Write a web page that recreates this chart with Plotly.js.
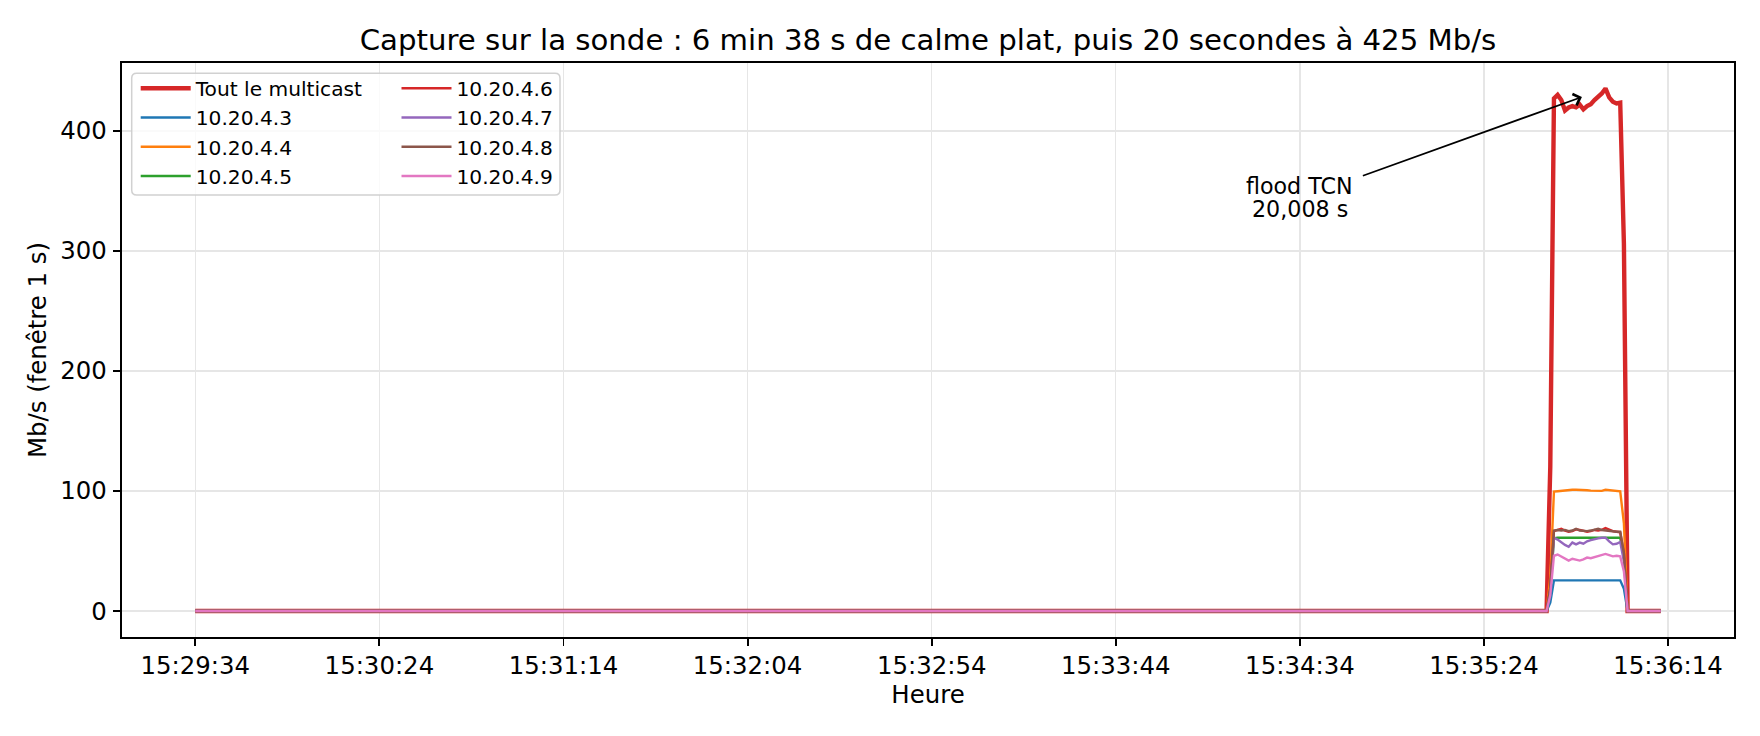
<!DOCTYPE html>
<html>
<head>
<meta charset="utf-8">
<script src="https://cdn.plot.ly/plotly-3.0.1.min.js"></script>
<style>
html,body{margin:0;padding:0;background:#fff;}
#chart{width:1760px;height:736px;}
</style>
</head>
<body>
<div id="chart"></div>
<script>
// ---- data ----
const day = '2024-01-01 ';
const times = ['15:29:34','15:35:41','15:35:42',
  '15:35:43','15:35:44','15:35:45','15:35:46','15:35:47','15:35:48','15:35:49','15:35:50','15:35:51','15:35:52',
  '15:35:53','15:35:54','15:35:55','15:35:56','15:35:57','15:35:58','15:35:59','15:36:00','15:36:01',
  '15:36:02','15:36:03','15:36:12'];
const total = [0,0,120,
  427,430,425.7,417,419.5,420.7,419.6,421.9,418,420.7,422.3,425.7,427.9,431.2,435.4,427.9,424.3,422.9,423.5,
  306,0,0];
const ip3 = [0,0,7,
  25.5,25.5,25.6,25.5,25.5,25.6,25.5,25.5,25.5,25.6,25.5,25.5,25.5,25.6,25.5,25.5,25.5,25.6,25.5,
  18.5,0,0];
const ip4 = [0,0,28,
  99.5,99.8,100.2,100.5,100.8,101,101,101,100.8,100.6,100.3,100.2,100.6,100.1,101,100.5,100,99.8,99.6,
  73,0,0];
const ip5 = [0,0,17,
  60.6,61,61,61,61.1,61,61,61.2,61,61,61.1,61,61,61.2,61,61,61.1,61,61,
  44.5,0,0];
const ip6 = [0,0,19,
  66.5,67.5,68.5,67,66,66.5,68,67.5,66.5,66,66.5,67.5,67,67.5,69,67.5,66.5,66,65.5,
  48,0,0];
const ip7 = [0,0,17,
  61,59.5,57,55,53.5,57,55.5,57,56,58,59,60,60.5,61,61,58,55.5,56,57.5,
  41.5,0,0];
const ip8 = [0,0,19,
  67,67.5,67,67.5,66.5,67,68.5,67,66.5,66.5,67,68,68.5,67.5,67,67,66.5,66,66,
  48,0,0];
const ip9 = [0,0,13,
  46,47,45.5,44,42,43.5,43,42,43,44.5,44,45,46,46.5,47.5,46.5,45.5,46,45.5,
  33,0,0];

const seriesNames = ['Tout le multicast','10.20.4.3','10.20.4.4','10.20.4.5','10.20.4.6','10.20.4.7','10.20.4.8','10.20.4.9'];
const seriesValues = [total, ip3, ip4, ip5, ip6, ip7, ip8, ip9];
const seriesColors = ['#d62728','#1f77b4','#ff7f0e','#2ca02c','#d62728','#9467bd','#8c564b','#e377c2'];
const seriesLegend = ['legend','legend','legend','legend','legend2','legend2','legend2','legend2'];

const titleText = 'Capture sur la sonde : 6 min 38 s de calme plat, puis 20 secondes à 425 Mb/s';
const xTitle = 'Heure';
const yTitle = 'Mb/s (fenêtre 1 s)';
const noteLine1 = 'flood TCN';
const noteLine2 = '20,008 s';

// ---- layout geometry ----
const W = 1760, H = 736;
const M = {l:122, r:26, t:63, b:99};
const PW = W - M.l - M.r, PH = H - M.t - M.b;
const px2x = p => (p - M.l) / PW;
const px2y = p => 1 - (p - M.t) / PH;
const FONT = 'DejaVu Sans';

const x = times.map(t => day + t);

const traces = seriesValues.map((vals, i) => ({
  type: 'scatter', mode: 'lines',
  x: x, y: vals,
  name: seriesNames[i],
  legend: seriesLegend[i],
  line: {color: seriesColors[i], width: i === 0 ? 4.4 : 2.4},
  hoverinfo: 'skip'
}));

// rounded legend frame (paper coords)
function roundRect(x0, y0, x1, y1, r) {
  const X = p => px2x(p), Y = p => px2y(p);
  return `M${X(x0 + r)},${Y(y0)} L${X(x1 - r)},${Y(y0)} Q${X(x1)},${Y(y0)} ${X(x1)},${Y(y0 + r)} ` +
    `L${X(x1)},${Y(y1 - r)} Q${X(x1)},${Y(y1)} ${X(x1 - r)},${Y(y1)} L${X(x0 + r)},${Y(y1)} ` +
    `Q${X(x0)},${Y(y1)} ${X(x0)},${Y(y1 - r)} L${X(x0)},${Y(y0 + r)} Q${X(x0)},${Y(y0)} ${X(x0 + r)},${Y(y0)} Z`;
}

const legendCommon = {
  xref: 'paper', yref: 'paper', xanchor: 'left', yanchor: 'top',
  bgcolor: 'rgba(0,0,0,0)', borderwidth: 0,
  font: {family: FONT, size: 20.2, color: '#000'},
  itemwidth: 50, itemclick: false, itemdoubleclick: false
};

const axisCommon = {
  showline: true, linecolor: '#000', linewidth: 1.9, mirror: true,
  ticks: 'outside', ticklen: 7.5, tickwidth: 1.9, tickcolor: '#000',
  showgrid: true, gridcolor: '#e6e6e6', gridwidth: 1.4,
  zeroline: false,
  tickfont: {family: FONT, size: 24.4, color: '#000'}
};

const layout = {
  width: W, height: H,
  margin: M,
  paper_bgcolor: '#fff', plot_bgcolor: '#fff',
  font: {family: FONT, color: '#000'},
  showlegend: true,
  title: {text: titleText, x: (M.l + PW / 2) / W, xref: 'container', xanchor: 'center',
          y: 1 - 40 / H, yref: 'container', yanchor: 'middle',
          font: {family: FONT, size: 29.2, color: '#000'}},
  xaxis: Object.assign({}, axisCommon, {
    type: 'date',
    range: [day + '15:29:14.1', day + '15:36:31.9'],
    tick0: day + '15:29:34', dtick: 50000, tickformat: '%H:%M:%S',
    ticklabelstandoff: -2,
    title: {text: xTitle, font: {family: FONT, size: 24.4, color: '#000'}, standoff: 6}
  }),
  yaxis: Object.assign({}, axisCommon, {
    range: [-21.7, 456.6],
    tick0: 0, dtick: 100,
    ticklabelstandoff: 1,
    title: {text: yTitle, font: {family: FONT, size: 24.4, color: '#000'}, standoff: 7}
  }),
  legend: Object.assign({}, legendCommon, {x: px2x(135.7), y: px2y(68.6)}),
  legend2: Object.assign({}, legendCommon, {x: px2x(396.5), y: px2y(68.6)}),
  shapes: [{
    type: 'path', xref: 'paper', yref: 'paper', layer: 'above',
    path: roundRect(131.7, 73.3, 560, 195, 5),
    fillcolor: 'rgba(255,255,255,0.8)',
    line: {color: 'rgba(204,204,204,0.9)', width: 1.5}
  }],
  annotations: [
    {x: day + '15:35:50.6', y: 428.3, xref: 'x', yref: 'y',
     ax: day + '15:34:50.7', ay: 362.2, axref: 'x', ayref: 'y',
     text: '', showarrow: true, arrowhead: 4, arrowsize: 1.3, arrowwidth: 1.8, arrowcolor: '#000', standoff: 0, startstandoff: 0},
    {x: day + '15:34:34', y: 353.9, xref: 'x', yref: 'y', text: noteLine1, showarrow: false,
     xanchor: 'center', yanchor: 'middle', font: {family: FONT, size: 22.2, color: '#000'}},
    {x: day + '15:34:34', y: 335.3, xref: 'x', yref: 'y', text: noteLine2, showarrow: false,
     xanchor: 'center', yanchor: 'middle', font: {family: FONT, size: 22.2, color: '#000'}}
  ]
};

Plotly.newPlot('chart', traces, layout, {displayModeBar: false, staticPlot: true});
</script>
</body>
</html>
